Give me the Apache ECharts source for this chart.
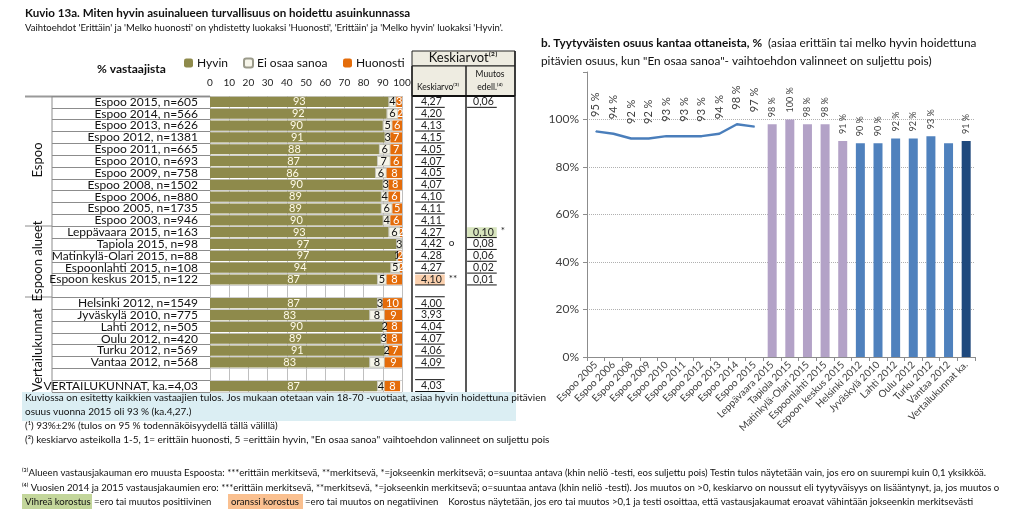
<!DOCTYPE html>
<html><head><meta charset="utf-8">
<script src="https://cdn.jsdelivr.net/npm/echarts@6/dist/echarts.min.js"></script>
<style>html,body{margin:0;padding:0;background:#fff}#c{width:1024px;height:529px}</style>
</head><body><div id="c"></div><script>
// ---------- DATA (left panel) ----------
const rowLabels = ['Espoo 2015, n=605','Espoo 2014, n=566','Espoo 2013, n=626','Espoo 2012, n=1381','Espoo 2011, n=665','Espoo 2010, n=693','Espoo 2009, n=758','Espoo 2008, n=1502','Espoo 2006, n=880','Espoo 2005, n=1735','Espoo 2003, n=946','Leppävaara 2015, n=163','Tapiola 2015, n=98','Matinkylä-Olari 2015, n=88','Espoonlahti 2015, n=108','Espoon keskus 2015, n=122','','Helsinki 2012, n=1549','Jyväskylä 2010, n=775','Lahti 2012, n=505','Oulu 2012, n=420','Turku 2012, n=569','Vantaa 2012, n=568',' ','VERTAILUKUNNAT, ka.=4,03'];
const hyvin    = [93,92,90,91,88,87,86,90,89,89,90,93,97,97,94,87,null,87,83,90,89,91,83,null,87];
const eos      = [4,6,5,3,6,7,6,3,4,6,4,6,3,1,5,5,null,3,8,2,3,2,8,null,4];
const huonosti = [3,2,6,7,7,6,8,8,6,5,6,2,0,2,2,8,null,10,9,8,8,7,9,null,8];
const keskiarvo = [4.27,4.20,4.13,4.15,4.05,4.07,4.05,4.07,4.10,4.11,4.11,4.27,4.42,4.28,4.27,4.10,null,4.00,3.93,4.04,4.07,4.06,4.09,null,4.03];
const muutos    = [0.06,null,null,null,null,null,null,null,null,null,null,0.10,0.08,0.06,0.02,0.01,null,null,null,null,null,null,null,null,null];
const keskiMark = {12:'o',15:'**'};
const keskiHighlight = {15:'neg'};
const muutosMark = {11:'*'};
const muutosHighlight = {11:'pos'};
const legendNames = ['Hyvin','Ei osaa sanoa','Huonosti'];

// ---------- DATA (right panel) ----------
const satCategories = ['Espoo 2005','Espoo 2006','Espoo 2008','Espoo 2009','Espoo 2010','Espoo 2011','Espoo 2012','Espoo 2013','Espoo 2014','Espoo 2015','Leppävaara 2015','Tapiola 2015','Matinkylä-Olari 2015','Espoonlahti 2015','Espoon keskus 2015','Helsinki 2012','Jyväskylä 2010','Lahti 2012','Oulu 2012','Turku 2012','Vantaa 2012','Vertailukunnat ka.'];
const espooTrend = [95,94,92,92,93,93,93,94,98,97];
const areaShare = [98,100,98,98,91];
const cityShare = [90,90,92,92,93,90];
const refShare = [91];
const unlabeled = ['Vantaa 2012'];
</script><script>
const F = 'Lato, "Liberation Sans", sans-serif';
const chart = echarts.init(document.getElementById('c'), null, {renderer:'canvas'});

const nC = satCategories.length;
function place(arr, start){ const out = new Array(nC).fill(null); arr.forEach((v,i)=>{ const idx=start+i; out[idx] = unlabeled.includes(satCategories[idx]) ? {value:v,label:{show:false}} : v; }); return out; }
const lineData = place(espooTrend,0);
const areaData = place(areaShare,espooTrend.length);
const cityData = place(cityShare,espooTrend.length+areaShare.length);
const refData  = place(refShare,espooTrend.length+areaShare.length+cityShare.length);

const fmt = v => v.toFixed(2).replace('.',',');
const tableData = [];
rowLabels.forEach((r,i)=>{
  tableData.push([0,i,keskiarvo[i]!=null?fmt(keskiarvo[i]):'',keskiHighlight[i]||'',keskiMark[i]||'']);
  if (muutos[i]!=null) tableData.push([1,i,fmt(muutos[i]),muutosHighlight[i]||'',muutosMark[i]||'']);
});

const barLabel = (color, hideZero) => ({show:true, position:'inside', color, fontSize:11, fontFamily:F,
  formatter: p => (p.value==null || (hideZero && p.value===0)) ? '' : String(p.value)});

const rightBarLabel = {show:true, position:'top', rotate:90, align:'left', verticalAlign:'middle', distance:7,
  fontSize:9, color:'#404040', fontFamily:F, formatter: p => p.value + ' %'};

const t = (x,y,text,o={}) => ({type:'text', x, y, style:Object.assign({text, fontFamily:F, fontSize:10, fill:'#111', textVerticalAlign:'middle'}, o)});
const ln = (x1,y1,x2,y2,stroke='#888',lw=1) => ({type:'line', shape:{x1,y1,x2,y2}, style:{stroke, lineWidth:lw}, silent:true});
const legendAt = (name, left) => ({data:[name], left, top:57, itemWidth:9, itemHeight:9, padding:0,
  textStyle:{fontSize:12, color:'#111', fontFamily:F, padding:[0,0,0,-1]}});

const option = {
  animation:false,
  textStyle:{fontFamily:F},
  legend:[legendAt(legendNames[0],184), legendAt(legendNames[1],243), legendAt(legendNames[2],343)],
  grid:[
    {left:210, top:96, width:192, height:296},
    {left:587, right:49, top:72, bottom:172},
    {left:52, top:96, width:158, height:296},
    {left:412, top:96, width:104, height:296}
  ],
  xAxis:[
    {gridIndex:0, type:'value', position:'top', min:0, max:100, interval:10,
     axisLabel:{fontSize:10, color:'#222', margin:8}, axisLine:{show:false}, axisTick:{show:false},
     splitLine:{show:true, lineStyle:{color:'#bfbfbf', width:1}}},
    {gridIndex:1, type:'category', data:satCategories,
     axisLabel:{rotate:45, fontSize:10, color:'#404040', interval:0, margin:6},
     axisLine:{lineStyle:{color:'#8c8c8c'}}, axisTick:{show:true, length:4, lineStyle:{color:'#8c8c8c'}}},
    {gridIndex:2, type:'value', show:false, min:0, max:1},
    {gridIndex:3, type:'value', show:false, min:0, max:2}
  ],
  yAxis:[
    {gridIndex:0, type:'category', data:rowLabels, inverse:true,
     axisLabel:{fontSize:12, color:'#111', margin:12, interval:0}, axisLine:{show:false}, axisTick:{show:false},
     splitLine:{show:true, interval:0, lineStyle:{color:'#d0d0d0'}}},
    {gridIndex:1, type:'value', min:0, max:120, interval:20,
     axisLabel:{fontSize:12, color:'#404040', formatter: v => v===120?'':v+'%'},
     axisLine:{show:true, lineStyle:{color:'#8c8c8c'}}, axisTick:{show:true, length:4, lineStyle:{color:'#8c8c8c'}},
     splitLine:{show:true, lineStyle:{type:'dotted', color:['#b0b0b0','#b0b0b0','#b0b0b0','#b0b0b0','#b0b0b0','#b0b0b0','rgba(0,0,0,0)']}}},
    {gridIndex:2, type:'category', data:rowLabels, inverse:true, axisLabel:{show:false}, axisLine:{show:false}, axisTick:{show:false},
     splitLine:{show:true, interval:0, lineStyle:{color:'#8c8c8c'}}},
    {gridIndex:3, type:'category', data:rowLabels, inverse:true, show:false}
  ],
  series:[
    {name:'Hyvin', type:'bar', stack:'s', xAxisIndex:0, yAxisIndex:0, data:hyvin, barCategoryGap:'14%',
     itemStyle:{color:'#8e8a4b'}, label:barLabel('#fffbe8')},
    {name:'Ei osaa sanoa', type:'bar', stack:'s', xAxisIndex:0, yAxisIndex:0, data:eos,
     itemStyle:{color:'#f6f5e9', borderColor:'#9a9a8a', borderWidth:0.6}, label:barLabel('#111')},
    {name:'Huonosti', type:'bar', stack:'s', xAxisIndex:0, yAxisIndex:0, data:huonosti,
     itemStyle:{color:'#e46c0a'}, label:barLabel('#ffffff', true)},
    {type:'line', xAxisIndex:1, yAxisIndex:1, data:lineData, symbol:'circle', symbolSize:1, connectNulls:false,
     lineStyle:{color:'#4a7ebb', width:2.5}, itemStyle:{color:'#4a7ebb'},
     label:{show:true, position:'top', rotate:90, align:'left', verticalAlign:'middle', distance:14, fontSize:11, color:'#404040', fontFamily:F, formatter: p => p.value + ' %'}},
    {type:'bar', xAxisIndex:1, yAxisIndex:1, data:areaData, barWidth:9, barGap:'-100%', itemStyle:{color:'#b3a2c7'}, label:rightBarLabel},
    {type:'bar', xAxisIndex:1, yAxisIndex:1, data:cityData, barWidth:9, barGap:'-100%', itemStyle:{color:'#4f81bd'}, label:rightBarLabel},
    {type:'bar', xAxisIndex:1, yAxisIndex:1, data:refData, barWidth:9, barGap:'-100%', itemStyle:{color:'#1f497d'}, label:rightBarLabel},
    {type:'custom', xAxisIndex:3, yAxisIndex:3, data:tableData.map(d=>[d[0],d[1]]), clip:false,
     renderItem:(params, api) => {
       const d = tableData[params.dataIndex];
       const p0 = api.coord([d[0]+0.06, d[1]]);
       const p1 = api.coord([d[0]+0.63, d[1]]);
       const h = api.size([0,1])[1];
       const top = p0[1]-h/2+1, bottom = p0[1]+h/2-0.5;
       const ch = [];
       if (d[3]) ch.push({type:'rect', shape:{x:p0[0], y:top, width:p1[0]-p0[0], height:h-1.5}, style:{fill: d[3]==='pos'?'#d7e4bd':'#fbd0ad'}});
       ch.push({type:'line', shape:{x1:p0[0], y1:bottom, x2:p1[0], y2:bottom}, style:{stroke:'#111', lineWidth:1}});
       ch.push({type:'text', x:p1[0]-3, y:p0[1], style:{text:d[2], align:'right', verticalAlign:'middle', fontSize:10.5, fill:'#222', fontFamily:F}});
       if (d[4]) ch.push({type:'text', x:p1[0]+4, y:p0[1]-1, style:{text:d[4], align:'left', verticalAlign:'middle', fontSize:10, fill:'#222', fontFamily:F}});
       return {type:'group', children:ch};
     }}
  ],
  graphic:[
    t(25,13,'Kuvio 13a. Miten hyvin asuinalueen turvallisuus on hoidettu asuinkunnassa',{fontSize:11.6, fontWeight:'bold'}),
    t(25,28,"Vaihtoehdot 'Erittäin' ja 'Melko huonosti' on yhdistetty luokaksi 'Huonosti', 'Erittäin' ja 'Melko hyvin' luokaksi 'Hyvin'.",{fontSize:9.5}),
    t(97,69,'% vastaajista',{fontSize:12, fontWeight:'bold'}),
    ln(25,96.5,210,96.5,'#9a9a9a',2),
    ln(52,96,52,392,'#8c8c8c',1),
    ln(25,226,52,226,'#8c8c8c',1),
    ln(25,297,52,297,'#8c8c8c',1),
    {type:'text', x:38, y:160, rotation:Math.PI/2, style:{text:'Espoo', fontFamily:F, fontSize:13, fill:'#111', align:'center', verticalAlign:'middle'}},
    {type:'text', x:38, y:261, rotation:Math.PI/2, style:{text:'Espoon alueet', fontFamily:F, fontSize:13, fill:'#111', align:'center', verticalAlign:'middle'}},
    {type:'text', x:38, y:350, rotation:Math.PI/2, style:{text:'Vertailukunnat', fontFamily:F, fontSize:13, fill:'#111', align:'center', verticalAlign:'middle'}},
    {type:'rect', shape:{x:412, y:51, width:103, height:15}, style:{fill:'#eeece1', stroke:'#222', lineWidth:1}},
    {type:'rect', shape:{x:412, y:66, width:103, height:30}, style:{fill:'#eeece1', stroke:'#222', lineWidth:1}},
    t(463,58,'Keskiarvot⁽²⁾',{fontSize:13, align:'center'}),
    t(438,87,'Keskiarvo⁽³⁾',{fontSize:8.5, align:'center'}),
    t(490,74,'Muutos',{fontSize:8.5, align:'center'}),
    t(490,87,'edell.⁽⁴⁾',{fontSize:8.5, align:'center'}),
    ln(466,66,466,400,'#222',1.5),
    ln(412,96,515,96,'#111',2),
    ln(412,66,412,400,'#222',1.5),
    ln(515,51,515,400,'#222',1.5),
    {type:'rect', shape:{x:22, y:392, width:494, height:29}, style:{fill:'#dbeef3'}},
    t(25,398,'Kuviossa on esitetty kaikkien vastaajien tulos. Jos mukaan otetaan vain 18-70 -vuotiaat, asiaa hyvin hoidettuna pitävien',{fontSize:10}),
    t(25,412,'osuus vuonna 2015 oli 93 % (ka.4,27.)',{fontSize:10}),
    t(25,426,'(¹) 93%±2% (tulos on 95 % todennäköisyydellä tällä välillä)',{fontSize:10}),
    t(25,440,'(²) keskiarvo asteikolla 1-5, 1= erittäin huonosti, 5 =erittäin hyvin, "En osaa sanoa" vaihtoehdon valinneet on suljettu pois',{fontSize:10}),
    t(22,473,'⁽³⁾Alueen vastausjakauman ero muusta Espoosta: ***erittäin merkitsevä, **merkitsevä, *=jokseenkin merkitsevä; o=suuntaa antava (khin neliö -testi, eos suljettu pois) Testin tulos näytetään vain, jos ero on suurempi kuin 0,1 yksikköä.',{fontSize:9.6}),
    t(22,488,'⁽⁴⁾ Vuosien 2014 ja 2015 vastausjakaumien ero: ***erittäin merkitsevä, **merkitsevä, *=jokseenkin merkitsevä; o=suuntaa antava (khin neliö -testi). Jos muutos on >0, keskiarvo on noussut eli tyytyväisyys on lisääntynyt, ja, jos muutos o',{fontSize:9.6}),
    {type:'rect', shape:{x:22, y:494, width:70, height:15}, style:{fill:'#c3d69b'}},
    t(25,502,'Vihreä korostus',{fontSize:9.6}),
    t(94,502,'=ero tai muutos positiivinen',{fontSize:9.6}),
    {type:'rect', shape:{x:228, y:494, width:75, height:15}, style:{fill:'#fac090'}},
    t(231,502,'oranssi korostus',{fontSize:9.6}),
    t(305,502,'=ero tai muutos on negatiivinen    Korostus näytetään, jos ero tai muutos >0,1 ja testi osoittaa, että vastausjakaumat eroavat vähintään jokseenkin merkitsevästi',{fontSize:9.6}),
    {type:'text', x:541, y:43, style:{text:'{b|b. Tyytyväisten osuus kantaa ottaneista, %}  (asiaa erittäin tai melko hyvin hoidettuna', fontFamily:F, fontSize:11.8, fill:'#111', verticalAlign:'middle', rich:{b:{fontWeight:'bold', fontSize:11.8, fontFamily:F, fill:'#111'}}}},
    t(541,61,'pitävien osuus, kun "En osaa sanoa"- vaihtoehdon valinneet on suljettu pois)',{fontSize:11.8})
  ]
};
chart.setOption(option);
</script></body></html>
